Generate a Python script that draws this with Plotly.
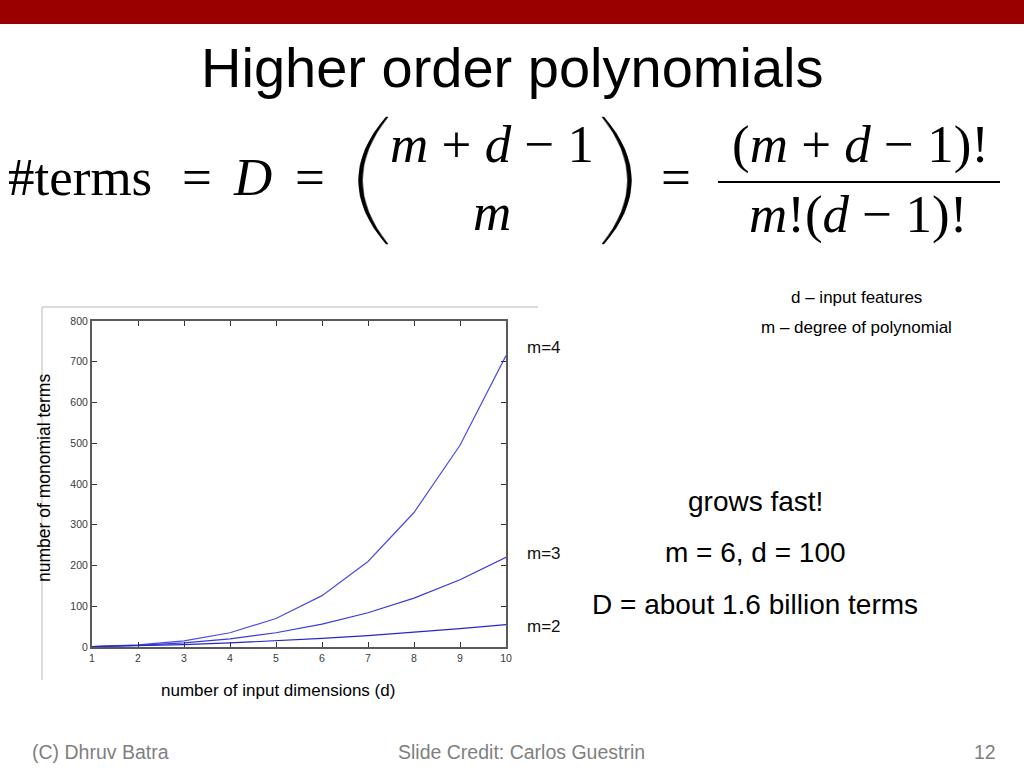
import plotly.graph_objects as go

# ---- data ----
dims = [1, 2, 3, 4, 5, 6, 7, 8, 9, 10]
terms_m2 = [1, 3, 6, 10, 15, 21, 28, 36, 45, 55]
terms_m3 = [1, 4, 10, 20, 35, 56, 84, 120, 165, 220]
terms_m4 = [1, 5, 15, 35, 70, 126, 210, 330, 495, 715]
series = [("m=4", terms_m4, "#4b4be6"), ("m=3", terms_m3, "#3a3ad8"), ("m=2", terms_m2, "#2626c8")]
y_ticks = [0, 100, 200, 300, 400, 500, 600, 700, 800]

W, H = 1024, 768


def px(x):
    return x / W


def py(y):
    return 1 - y / H


fig = go.Figure()
for name, vals, col in series:
    fig.add_trace(go.Scatter(x=dims, y=vals, mode="lines", name=name,
                             line=dict(color=col, width=1.2), showlegend=False,
                             hoverinfo="skip"))

ann = []
for name, vals, col in series:
    ann.append(dict(x=dims[-1], y=vals[-1], xref="x", yref="y", text=name,
                    showarrow=False, xanchor="center", yanchor="middle",
                    xshift=38, yshift=(8 if name == "m=4" else (4 if name == "m=3" else -2)),
                    font=dict(family="Liberation Sans, Arial", size=17, color="#111")))


def txt(x, y, s, size, family="Liberation Sans, Arial", color="#000", xanchor="center"):
    ann.append(dict(x=px(x), y=py(y), xref="paper", yref="paper", text=s,
                    showarrow=False, xanchor=xanchor, yanchor="middle",
                    font=dict(family=family, size=size, color=color)))


txt(512, 68, "Higher order polynomials", 56)

serif = "Liberation Serif, Times New Roman, serif"
fs = 53
off = 0.3 * fs
txt(80, 193 - off, "#terms", fs, serif)
txt(197, 193 - off, "=", fs, serif)
txt(252, 193 - off, "<i>D</i>", fs, serif)
txt(310, 193 - off, "=", fs, serif)
txt(492, 160 - off, "<i>m</i> + <i>d</i> − 1", fs, serif)
txt(492, 228 - off, "<i>m</i>", fs, serif)
txt(676, 193 - off, "=", fs, serif)
txt(860, 160 - off, "(<i>m</i> + <i>d</i> − 1)!", fs, serif)
txt(858, 230 - off, "<i>m</i>!(<i>d</i> − 1)!", fs, serif)

txt(856, 297, "d – input features", 17)
txt(856, 328, "m – degree of polynomial", 17)
txt(755, 501, "grows fast!", 28)
txt(755, 552, "m = 6, d = 100", 28)
txt(755, 604, "D = about 1.6 billion terms", 28)

txt(278, 690, "number of input dimensions (d)", 17)
ann.append(dict(x=px(44), y=py(478), xref="paper", yref="paper",
                text="number of monomial terms", showarrow=False, textangle=-90,
                xanchor="center", yanchor="middle",
                font=dict(family="Liberation Sans, Arial", size=17.5, color="#000")))

txt(30, 752, "(C) Dhruv Batra", 19.5, color="#7f7f7f", xanchor="left")
txt(521, 752, "Slide Credit: Carlos Guestrin", 19.5, color="#7f7f7f")
txt(998, 752, "12", 19.5, color="#7f7f7f", xanchor="right")


def paren(points):
    s = "M {:.5f},{:.5f} Q {:.5f},{:.5f} {:.5f},{:.5f} L {:.5f},{:.5f} Q {:.5f},{:.5f} {:.5f},{:.5f} Z"
    flat = []
    for (x, y) in points:
        flat += [px(x), py(y)]
    return s.format(*flat)


shapes = [
    dict(type="rect", xref="paper", yref="paper", x0=0, x1=1, y0=py(24), y1=1,
         fillcolor="#990000", line=dict(width=0), layer="above"),
    dict(type="line", xref="paper", yref="paper", x0=px(42), x1=px(538), y0=py(307), y1=py(307),
         line=dict(color="#b8b8b8", width=1)),
    dict(type="line", xref="paper", yref="paper", x0=px(42), x1=px(42), y0=py(307), y1=py(680),
         line=dict(color="#b8b8b8", width=1)),
    dict(type="line", xref="paper", yref="paper", x0=px(718), x1=px(1000), y0=py(182), y1=py(182),
         line=dict(color="#000", width=2)),
    dict(type="path", xref="paper", yref="paper",
         path=paren([(386, 117), (331, 180.5), (386, 244), (388, 244), (337, 180.5), (388, 117)]),
         fillcolor="#000", line=dict(color="#000", width=0.5)),
    dict(type="path", xref="paper", yref="paper",
         path=paren([(604, 117), (659, 180.5), (604, 244), (602, 244), (653, 180.5), (602, 117)]),
         fillcolor="#000", line=dict(color="#000", width=0.5)),
]

axis_common = dict(showgrid=False, zeroline=False, showline=True, linecolor="#5a5a5a",
                   linewidth=2, mirror="ticks", ticks="inside", ticklen=5, tickwidth=1,
                   tickcolor="#333", tickfont=dict(family="Liberation Sans, Arial", size=10.5,
                                                   color="#3a3a3a"))

fig.update_layout(
    width=W, height=H, margin=dict(l=0, r=0, t=0, b=0, pad=0, autoexpand=False),
    paper_bgcolor="white", plot_bgcolor="white",
    xaxis=dict(domain=[px(92), px(506)], range=[1, 10], tickvals=dims, **axis_common),
    yaxis=dict(domain=[py(647), py(321)], range=[0, 800], tickvals=y_ticks, **axis_common),
    annotations=ann, shapes=shapes,
)

pin = ("document.documentElement.style.margin='0';document.body.style.margin='0';"
       "document.body.style.padding='0';document.body.style.overflow='hidden';"
       "document.documentElement.style.overflow='hidden';"
       "var g=document.getElementById('{plot_id}');"
       "g.style.position='fixed';g.style.left='0px';g.style.top='0px';")

fig.write_html("out.html", config={"displayModeBar": False}, post_script=pin)
